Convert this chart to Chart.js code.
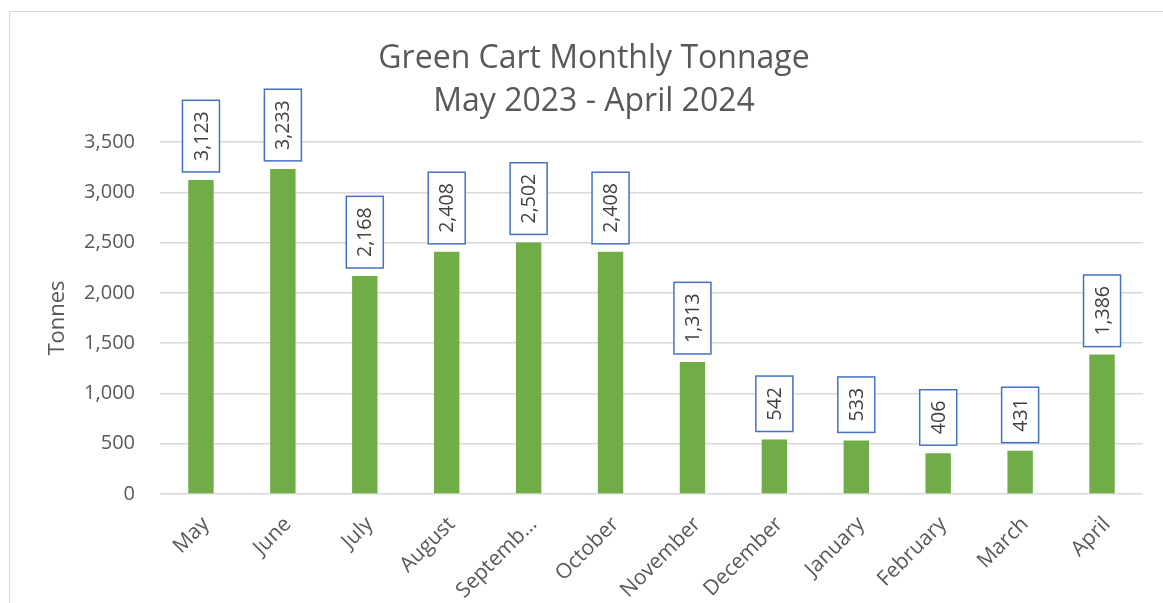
<!DOCTYPE html>
<html>
<head>
<meta charset="utf-8">
<script src="https://cdn.jsdelivr.net/npm/chart.js@4/dist/chart.umd.min.js"></script>
<style>
  html, body { margin: 0; padding: 0; background: #fff; overflow: hidden; }
  #wrap { position: relative; width: 1163px; height: 603px; }
  #frame { position: absolute; left: 9px; top: 11px; width: 1200px; height: 700px; border: 1px solid #d9d9d9; box-sizing: border-box; }
  canvas { position: absolute; left: 0; top: 0; }
</style>
</head>
<body>
<div id="wrap">
  <div id="frame"></div>
  <canvas id="c" width="1163" height="603"></canvas>
</div>
<script>
const categories = ["May", "June", "July", "August", "September", "October", "November", "December", "January", "February", "March", "April"];
const tonnage = [3123, 3233, 2168, 2408, 2502, 2408, 1313, 542, 533, 406, 431, 1386];
const titleLines = ["Green Cart Monthly Tonnage", "May 2023 - April 2024"];
const yAxisTitle = "Tonnes";

const FONT = "'Open Sans', 'Segoe UI', sans-serif";
const TEXT = "#595959";

const labelBoxes = {
  id: 'labelBoxes',
  afterDatasetsDraw(chart) {
    const ctx = chart.ctx;
    const meta = chart.getDatasetMeta(0);
    const ds = chart.data.datasets[0];
    ctx.save();
    ctx.font = "19.5px " + FONT;
    meta.data.forEach((el, i) => {
      const txt = ds.data[i].toLocaleString('en-US');
      const tw = ctx.measureText(txt).width;
      const boxH = tw + 22;
      const boxW = 37;
      const bottom = el.y - 8;
      const top = bottom - boxH;
      ctx.fillStyle = "#fff";
      ctx.fillRect(el.x - boxW / 2, top, boxW, boxH);
      ctx.strokeStyle = "#4472C4";
      ctx.lineWidth = 1.5;
      ctx.strokeRect(el.x - boxW / 2, top, boxW, boxH);
      ctx.save();
      ctx.translate(el.x + 1, top + boxH / 2);
      ctx.rotate(-Math.PI / 2);
      ctx.fillStyle = "#404040";
      ctx.textAlign = "center";
      ctx.textBaseline = "middle";
      ctx.fillText(txt, 0, 0);
      ctx.restore();
    });
    ctx.restore();
  }
};

new Chart(document.getElementById('c'), {
  type: 'bar',
  data: {
    labels: categories,
    datasets: [{
      data: tonnage,
      backgroundColor: "#70AD47",
      borderWidth: 0,
      categoryPercentage: 1.0,
      barPercentage: 0.31
    }]
  },
  options: {
    responsive: false,
    animation: false,
    devicePixelRatio: 1,
    layout: { padding: { left: 45, right: 20, top: 0, bottom: 0 } },
    plugins: {
      legend: { display: false },
      tooltip: { enabled: false },
      title: {
        display: true,
        text: titleLines,
        color: TEXT,
        font: { family: FONT, size: 32, weight: 'normal', lineHeight: 1.36 },
        padding: { top: 37, bottom: 18 }
      }
    },
    scales: {
      x: {
        grid: { display: false },
        border: { display: false },
        ticks: {
          color: TEXT,
          font: { family: FONT, size: 21 },
          minRotation: 45,
          maxRotation: 45,
          autoSkip: false,
          padding: 10,
          labelOffset: 5,
          callback: function(v, i) {
            const l = categories[i];
            return l.length > 8 ? l.slice(0, 7) + '…' : l;
          }
        },
        afterFit(scale) { scale.height = 109; }
      },
      y: {
        min: 0,
        max: 3500,
        grid: { color: "#d9d9d9", lineWidth: 1.5, drawTicks: false },
        border: { display: false },
        ticks: {
          stepSize: 500,
          color: TEXT,
          padding: 25,
          font: { family: FONT, size: 20 },
          callback: v => v.toLocaleString('en-US')
        },
        title: {
          display: true,
          text: yAxisTitle,
          color: TEXT,
          font: { family: FONT, size: 22 },
          padding: { top: 0, bottom: 0 }
        },
        afterFit(scale) { scale.width = 115; }
      }
    }
  },
  plugins: [labelBoxes]
});
</script>
</body>
</html>
